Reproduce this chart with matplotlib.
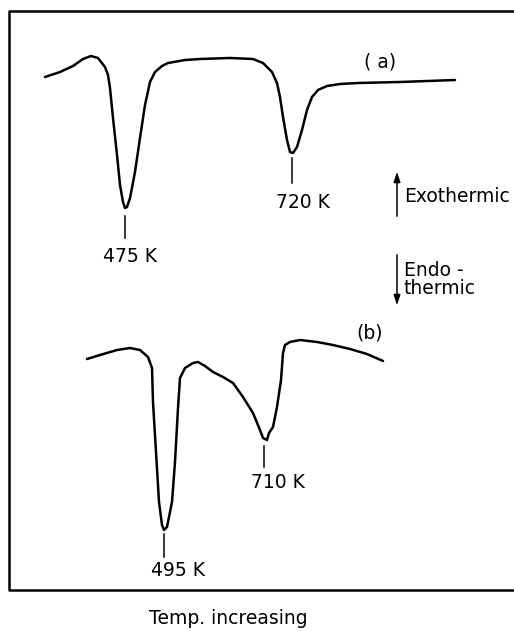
import matplotlib.pyplot as plt

# curve (a): trace (x, y in picture units, y downward)
a_x = [45, 60, 73, 83, 91, 98, 105, 108, 110, 113, 117, 120, 123, 125, 127, 130, 135, 140,
       145, 150, 155, 162, 168, 185, 200, 230, 253, 263, 272, 277, 280, 283, 287, 290, 293,
       297, 302, 307, 312, 318, 327, 340, 358, 400, 455]
a_y = [77, 72, 66, 59, 56, 58, 67, 75, 88, 118, 155, 185, 202, 208, 207, 198, 172, 138,
       105, 82, 72, 66, 63, 60, 59, 58, 59, 63, 72, 83, 97, 117, 140, 152, 153,
       147, 130, 110, 97, 90, 86, 84, 83, 82, 80]

# curve (b)
b_x = [87, 100, 117, 130, 140, 148, 152, 153, 156, 159, 162, 164, 167, 172, 175, 178, 180,
       185, 193, 198, 205, 213, 223, 233, 243, 253, 260, 263, 267, 269, 273, 277, 281, 283,
       285, 290, 300, 317, 333, 350, 367, 383]
b_y = [359, 355, 350, 348, 350, 357, 368, 402, 452, 502, 525, 530, 527, 502, 462, 408, 378,
       368, 363, 362, 366, 372, 377, 383, 397, 413, 430, 438, 440, 433, 427, 407, 380, 353,
       345, 342, 340, 342, 345, 349, 354, 361]

# peak markers: x of peak, tick top, tick bottom
peak_x = [125, 292, 164, 264]
tick_top = [216, 158, 534, 446]
tick_bot = [238, 183, 557, 467]
peak_labels = ["475 K", "720 K", "495 K", "710 K"]
label_xy = [(130, 257), (303, 202), (178, 570), (278, 483)]

fig = plt.figure(figsize=(5.14, 6.31), dpi=100)
ax = fig.add_axes([0, 0, 1, 1])
ax.set_xlim(0, 514)
ax.set_ylim(631, 0)
ax.axis("off")

font = {'family': 'DejaVu Sans', 'size': 13.5}

# frame (open on the right)
ax.plot([514, 9, 9, 514], [11, 11, 590, 590], color="black", lw=1.8)

ax.plot(a_x, a_y, color="black", lw=1.8, solid_capstyle="round", solid_joinstyle="round")
ax.plot(b_x, b_y, color="black", lw=1.8, solid_capstyle="round", solid_joinstyle="round")

for i in range(len(peak_x)):
    ax.plot([peak_x[i], peak_x[i]], [tick_top[i], tick_bot[i]], color="black", lw=1.1)
    ax.text(label_xy[i][0], label_xy[i][1], peak_labels[i], ha="center", va="center", fontdict=font)

ax.text(380, 62, "( a)", ha="center", va="center", fontdict=font)
ax.text(370, 333, "(b)", ha="center", va="center", fontdict=font)

# exo / endo arrows
ax.annotate("", xy=(397, 169), xytext=(397, 219),
            arrowprops=dict(arrowstyle="-|>,head_length=0.6,head_width=0.2", color="black", lw=1.1))
ax.annotate("", xy=(397, 308), xytext=(397, 252),
            arrowprops=dict(arrowstyle="-|>,head_length=0.6,head_width=0.2", color="black", lw=1.1))
ax.text(404, 196, "Exothermic", ha="left", va="center", fontdict=font)
ax.text(404, 270, "Endo -", ha="left", va="center", fontdict=font)
ax.text(404, 288, "thermic", ha="left", va="center", fontdict=font)

ax.text(228, 619, "Temp. increasing", ha="center", va="center", fontdict=font)

plt.savefig("out.png", dpi=100)
